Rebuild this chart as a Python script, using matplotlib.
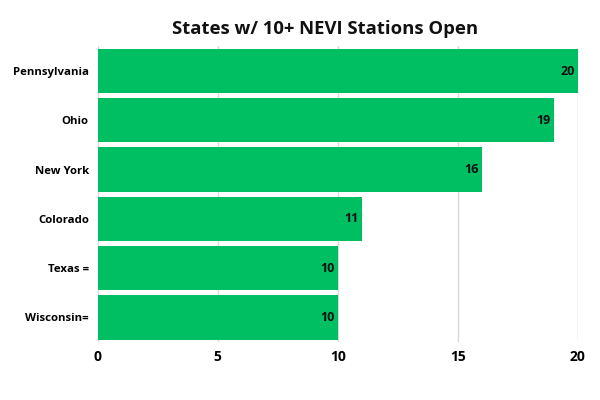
import matplotlib
matplotlib.use("Agg")
import matplotlib.pyplot as plt

states = ["Pennsylvania", "Ohio", "New York", "Colorado", "Texas =", "Wisconsin="]
stations = [20, 19, 16, 11, 10, 10]
xticks = [0, 5, 10, 15, 20]

plt.rcParams['font.family'] = ['Open Sans', 'DejaVu Sans']

fig = plt.figure(figsize=(6, 4), dpi=100)
ax = fig.add_axes([0.163, 0.145, 0.8, 0.739])

ypos = list(range(len(states)))[::-1]
bars = ax.barh(ypos, stations, height=0.9, color="#00BF63", zorder=3)
for y, v in zip(ypos, stations):
    ax.text(v - 0.12, y, str(v), ha="right", va="center", fontsize=9,
            fontweight="bold", color="#111111", zorder=4)

ax.set_yticks(ypos)
ax.set_yticklabels(states, fontsize=8.2, fontweight="bold")
ax.set_xticks(xticks)
ax.set_xticklabels([str(t) for t in xticks], fontsize=10, fontweight="bold")
ax.set_xlim(0, 20)
ax.set_ylim(-0.5, len(states) - 0.5)
ax.grid(axis="x", color="#d9d9d9", linewidth=1, zorder=0)
for s in ax.spines.values():
    s.set_visible(False)
ax.tick_params(axis="both", length=0)
ax.tick_params(axis="y", pad=6.5)
ax.tick_params(axis="x", pad=6)

fig.suptitle("States w/ 10+ NEVI Stations Open", fontsize=13.3, fontweight="bold",
             x=0.542, y=0.95, color="#111111")

fig.savefig("out.png", dpi=100)
